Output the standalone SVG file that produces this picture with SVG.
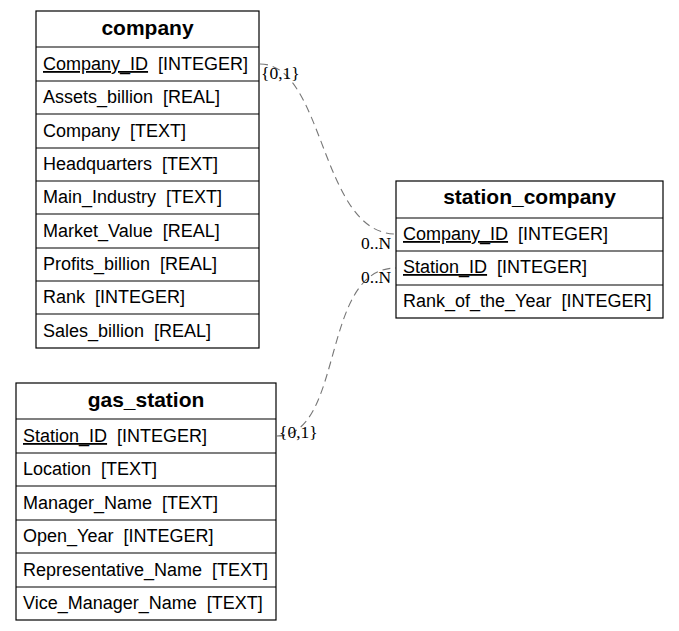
<svg xmlns="http://www.w3.org/2000/svg" width="679" height="631" viewBox="0 0 679 631" xml:space="preserve">
<style>
.box{fill:#fff;stroke:#000;stroke-width:1.2}
.ln{stroke:#000;stroke-width:1.2}
.h{font-family:"Liberation Sans",Arial,sans-serif;font-size:21px;font-weight:bold;text-anchor:middle}
.t{font-family:"Liberation Sans",Arial,sans-serif;font-size:18px;white-space:pre}
.u{text-decoration:underline}
.c{fill:none;stroke:#777;stroke-width:1.1;stroke-dasharray:8,5}
.lb{font-family:"Liberation Serif","Times New Roman",serif;font-size:17.5px;fill:#000}
</style>
<rect width="679" height="631" fill="#fff"/>
<g id="connectors">
<path class="c" d="M260,64 C325,64 320,234 396,234"/>
<path class="c" d="M277,436 C345,436 320,268 396,268"/>
<text class="lb" x="261" y="79">{0,1}</text>
<text class="lb" x="361" y="249">0..N</text>
<text class="lb" x="361" y="283">0..N</text>
<text class="lb" x="279" y="438">{0,1}</text>
</g>
<g id="company">
<rect class="box" x="36" y="11" width="223" height="337"/>
<text class="h" x="147.5" y="35">company</text>
<line class="ln" x1="36" y1="47" x2="259" y2="47"/>
<line class="ln" x1="36" y1="81" x2="259" y2="81"/>
<line class="ln" x1="36" y1="114" x2="259" y2="114"/>
<line class="ln" x1="36" y1="148" x2="259" y2="148"/>
<line class="ln" x1="36" y1="181" x2="259" y2="181"/>
<line class="ln" x1="36" y1="214" x2="259" y2="214"/>
<line class="ln" x1="36" y1="248" x2="259" y2="248"/>
<line class="ln" x1="36" y1="281" x2="259" y2="281"/>
<line class="ln" x1="36" y1="314" x2="259" y2="314"/>
<text class="t" x="43" y="70"><tspan class="u">Company_ID</tspan><tspan>  [INTEGER]</tspan></text>
<text class="t" x="43" y="103">Assets_billion  [REAL]</text>
<text class="t" x="43" y="137">Company  [TEXT]</text>
<text class="t" x="43" y="170">Headquarters  [TEXT]</text>
<text class="t" x="43" y="203">Main_Industry  [TEXT]</text>
<text class="t" x="43" y="237">Market_Value  [REAL]</text>
<text class="t" x="43" y="270">Profits_billion  [REAL]</text>
<text class="t" x="43" y="303">Rank  [INTEGER]</text>
<text class="t" x="43" y="337">Sales_billion  [REAL]</text>
</g>
<g id="station_company">
<rect class="box" x="396" y="181" width="267" height="137"/>
<text class="h" x="529.5" y="204">station_company</text>
<line class="ln" x1="396" y1="218" x2="663" y2="218"/>
<line class="ln" x1="396" y1="251" x2="663" y2="251"/>
<line class="ln" x1="396" y1="285" x2="663" y2="285"/>
<text class="t" x="403" y="240"><tspan class="u">Company_ID</tspan><tspan>  [INTEGER]</tspan></text>
<text class="t" x="403" y="273"><tspan class="u">Station_ID</tspan><tspan>  [INTEGER]</tspan></text>
<text class="t" x="403" y="307">Rank_of_the_Year  [INTEGER]</text>
</g>
<g id="gas_station">
<rect class="box" x="16" y="383" width="260" height="237"/>
<text class="h" x="146" y="407">gas_station</text>
<line class="ln" x1="16" y1="419" x2="276" y2="419"/>
<line class="ln" x1="16" y1="453" x2="276" y2="453"/>
<line class="ln" x1="16" y1="486" x2="276" y2="486"/>
<line class="ln" x1="16" y1="520" x2="276" y2="520"/>
<line class="ln" x1="16" y1="553" x2="276" y2="553"/>
<line class="ln" x1="16" y1="587" x2="276" y2="587"/>
<text class="t" x="23" y="442"><tspan class="u">Station_ID</tspan><tspan>  [INTEGER]</tspan></text>
<text class="t" x="23" y="475">Location  [TEXT]</text>
<text class="t" x="23" y="509">Manager_Name  [TEXT]</text>
<text class="t" x="23" y="542">Open_Year  [INTEGER]</text>
<text class="t" x="23" y="576">Representative_Name  [TEXT]</text>
<text class="t" x="23" y="609">Vice_Manager_Name  [TEXT]</text>
</g>
</svg>
